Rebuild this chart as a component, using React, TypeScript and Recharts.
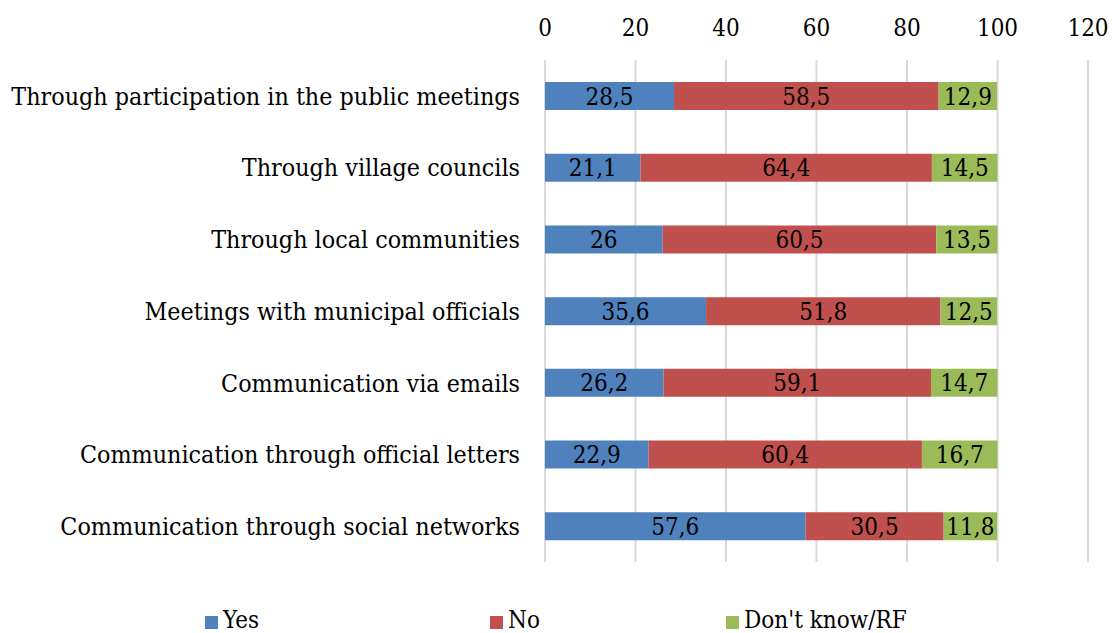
import { Bar, BarChart, CartesianGrid, LabelList, Legend, XAxis, YAxis } from "recharts"

const categories = [
  "Through participation in the public meetings",
  "Through village councils",
  "Through local communities",
  "Meetings with municipal officials",
  "Communication via emails",
  "Communication through official letters",
  "Communication through social networks",
]
const yes = [28.5, 21.1, 26, 35.6, 26.2, 22.9, 57.6]
const no = [58.5, 64.4, 60.5, 51.8, 59.1, 60.4, 30.5]
const dontKnow = [12.9, 14.5, 13.5, 12.5, 14.7, 16.7, 11.8]
const xTicks = [0, 20, 40, 60, 80, 100, 120]

const data = categories.map((name, i) => ({
  name,
  yes: yes[i],
  no: no[i],
  dk: dontKnow[i],
}))

const FONT = "'DejaVu Serif Condensed', 'DejaVu Serif', serif"
const fmt = (v: any) => String(v).replace(".", ",")

const legendItems = [
  { label: "Yes", color: "#4F81BD", width: 285 },
  { label: "No", color: "#C0504D", width: 236 },
  { label: "Don't know/RF", color: "#9BBB59", width: 220 },
]

const ChartLegend = () => (
  <div style={{ display: "flex", paddingLeft: 205, paddingTop: 44, fontFamily: FONT, fontSize: 24, color: "#000" }}>
    {legendItems.map((it) => (
      <div key={it.label} style={{ width: it.width, display: "flex", alignItems: "center" }}>
        <span style={{ width: 13, height: 13, background: it.color, marginRight: 5, marginTop: 5 }} />
        <span>{it.label}</span>
      </div>
    ))}
  </div>
)

export default function App() {
  return (
    <div style={{ position: "absolute", left: 0, top: 0, background: "#fff" }}>
      <BarChart
        width={1112}
        height={633}
        data={data}
        layout="vertical"
        margin={{ top: 0, right: 24, bottom: 0, left: 0 }}
        barSize={28}
      >
        <CartesianGrid horizontal={false} stroke="#D9D9D9" strokeWidth={2} />
        <XAxis
          type="number"
          orientation="top"
          domain={[0, 120]}
          ticks={xTicks}
          axisLine={false}
          tickLine={false}
          height={60}
          tickMargin={18}
          tick={{ fill: "#000", fontSize: 24, fontFamily: FONT }}
        />
        <YAxis
          type="category"
          dataKey="name"
          width={545}
          axisLine={false}
          tickLine={false}
          tickSize={0}
          tickMargin={25}
          tick={{ fill: "#000", fontSize: 24.8, fontFamily: FONT }}
        />
        <Legend verticalAlign="bottom" height={71} content={<ChartLegend />} />
        <Bar dataKey="yes" stackId="a" fill="#4F81BD" isAnimationActive={false}>
          <LabelList dataKey="yes" position="center" formatter={fmt} fill="#000" fontSize={24} fontFamily={FONT} />
        </Bar>
        <Bar dataKey="no" stackId="a" fill="#C0504D" isAnimationActive={false}>
          <LabelList dataKey="no" position="center" formatter={fmt} fill="#000" fontSize={24} fontFamily={FONT} />
        </Bar>
        <Bar dataKey="dk" stackId="a" fill="#9BBB59" isAnimationActive={false}>
          <LabelList dataKey="dk" position="center" formatter={fmt} fill="#000" fontSize={24} fontFamily={FONT} />
        </Bar>
      </BarChart>
    </div>
  )
}
